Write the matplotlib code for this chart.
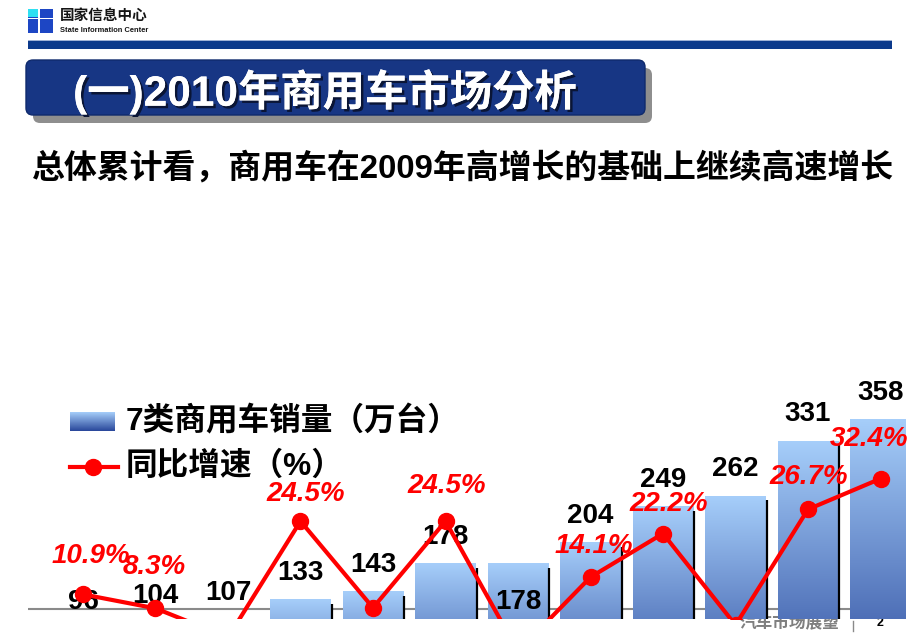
import matplotlib.pyplot as plt
import matplotlib.patheffects as pe
import numpy as np
from matplotlib.colors import LinearSegmentedColormap
from matplotlib.patches import Rectangle, FancyBboxPatch
from matplotlib.lines import Line2D

# ============================================================
# Data
# ============================================================
years = ['1999', '2000', '2001', '2002', '2003', '2004',
         '2005', '2006', '2007', '2008', '2009', '2010']
sales = [96, 104, 107, 133, 143, 178, 178, 204, 249, 262, 331, 358]          # 万台
growth = [10.9, 8.3, 2.9, 24.5, 8.4, 24.5, 0.3, 14.1, 22.2, 5.2, 26.7, 32.4]  # %
growth_labels = ['10.9%', '8.3%', '', '24.5%', '', '24.5%',
                 '', '14.1%', '22.2%', '', '26.7%', '32.4%']

title = '(一)2010年商用车市场分析'
subtitle = '总体累计看，商用车在2009年高增长的基础上继续高速增长'
legend_bar = '7类商用车销量（万台）'
legend_line = '同比增速（%）'

FAM = ['Liberation Sans', 'Noto Sans CJK SC', 'DejaVu Sans']
plt.rcParams['font.family'] = FAM

W, H = 920, 637
fig = plt.figure(figsize=(W / 100, H / 100), dpi=100)


def px_axes(x0, y0, x1, y1):
    return [x0 / W, 1 - y1 / H, (x1 - x0) / W, (y1 - y0) / H]


# background layer in pixel coordinates (header, title, legend, footer)
bg = fig.add_axes([0, 0, 1, 1], zorder=-1)
bg.set_xlim(0, W)
bg.set_ylim(H, 0)
bg.axis('off')

# ---- header logo + band
bg.add_patch(Rectangle((28, 9), 25, 24, fc='#1d46c4', ec='none'))
bg.add_patch(Rectangle((28, 9), 10, 8, fc='#2fe0f2', ec='none'))
bg.add_patch(Rectangle((38.5, 9), 1.6, 24, fc='white', ec='none'))
bg.add_patch(Rectangle((28, 17.5), 25, 1.6, fc='white', ec='none'))
bg.text(60, 16, '国家信息中心', fontsize=10.5, fontweight='bold', color='#151515',
        ha='left', va='center')
bg.text(60, 30.5, 'State Information Center', fontsize=5.4, fontweight='bold',
        color='#151515', ha='left', va='center',
        family=['Liberation Sans Narrow', 'Liberation Sans'])
bg.add_patch(Rectangle((28, 40), 864, 9, fc='#0c3a8c', ec='none'))
bg.add_patch(Rectangle((28, 40), 864, 1.2, fc='#9fb2d6', ec='none'))

# ---- title box
bg.add_patch(FancyBboxPatch((33, 68), 619, 55, boxstyle='round,pad=0,rounding_size=7',
                            fc='#8e8e8e', ec='none'))
bg.add_patch(FancyBboxPatch((26, 60), 619, 55, boxstyle='round,pad=0,rounding_size=7',
                            fc='#173684', ec='#0f2a6c', lw=1))
bg.text(325, 92, title, fontsize=30.5, fontweight='bold', color='white',
        ha='center', va='center',
        path_effects=[pe.withSimplePatchShadow(offset=(1.8, -1.8),
                                               shadow_rgbFace='#0a1535', alpha=1),
                      pe.Normal()])

# ---- subtitle
bg.text(32, 168, subtitle, fontsize=23.7, fontweight='bold', color='black',
        ha='left', va='center')

# ---- legend
cmap = LinearSegmentedColormap.from_list('bar', ['#28469a', '#a6cefa'])
grad = np.linspace(0, 1, 256).reshape(-1, 1)
bg.imshow(grad, cmap=cmap, extent=(70, 115, 431, 412), origin='lower',
          aspect='auto', zorder=1)
bg.text(126, 422, legend_bar, fontsize=22.8, fontweight='bold', ha='left', va='center')
bg.add_line(Line2D([70, 118], [467, 467], color='#ff0000', lw=3))
bg.add_line(Line2D([93], [467], marker='o', ms=11.5, color='#ff0000'))
bg.text(126, 467, legend_line, fontsize=22.8, fontweight='bold', ha='left', va='center')

# ---- footer (sits under the chart)
bg.text(789, 623, '汽车市场展望', fontsize=12, fontweight='bold', color='#7f7f7f',
        ha='center', va='center')
bg.add_line(Line2D([853, 853], [621, 631], color='#8a8a8a', lw=1))
bg.text(880, 623, '2', fontsize=9, fontweight='bold', color='black',
        ha='center', va='center')
bg.set_xlim(0, W)
bg.set_ylim(H, 0)

# ============================================================
# Chart
# ============================================================
ax = fig.add_axes(px_axes(28, 370, 906, 619), zorder=0)
ax.patch.set_visible(False)
x = np.arange(len(sales))

bars = ax.bar(x, sales, width=0.84, color='none', edgecolor='none', zorder=2)
for b in bars:
    x0, w, h = b.get_x(), b.get_width(), b.get_height()
    ax.imshow(grad, cmap=cmap, extent=(x0, x0 + w, 0, h), origin='lower',
              aspect='auto', zorder=2)
    ax.vlines(x0 + w + 0.014, 0, h - 5, color='black', lw=1.6, zorder=2.5)

ax.axhline(121.25, color='#8a8a8a', lw=1.5, zorder=1)

for i, v in enumerate(sales):
    dy = -28 if i == 6 else 19.5
    ax.annotate(str(v), (i, v), xytext=(0, dy), textcoords='offset points',
                ha='center', va='center', fontsize=20, fontweight='bold',
                color='black', annotation_clip=False, zorder=3)

ax.set_xlim(-0.7586, 11.3517)
ax.set_ylim(108.75, 420)
ax.axis('off')

ax2 = ax.twinx()
ax2.patch.set_visible(False)
ax2.plot(x, growth, color='#ff0000', lw=3, marker='o', ms=11.5, zorder=3)

# label offsets in pixels (dx, dy up)
label_offsets = {0: (8, 38), 1: (-1, 41), 3: (5, 27), 5: (1, 35),
                 7: (3, 31), 8: (6, 30), 10: (1, 32), 11: (-11, 40)}
for i, (v, lab) in enumerate(zip(growth, growth_labels)):
    if not lab:
        continue
    dx, dy = label_offsets[i]
    ax2.annotate(lab, (i, v), xytext=(dx * 0.72, dy * 0.72), textcoords='offset points',
                 ha='center', va='center', fontsize=20, fontweight='bold',
                 fontstyle='italic', color='#ff0000', annotation_clip=False, zorder=4)

ax2.set_ylim(6.32, 52.6)
ax2.set_xlim(-0.7586, 11.3517)
ax2.axis('off')

fig.savefig('out.png', dpi=100)
